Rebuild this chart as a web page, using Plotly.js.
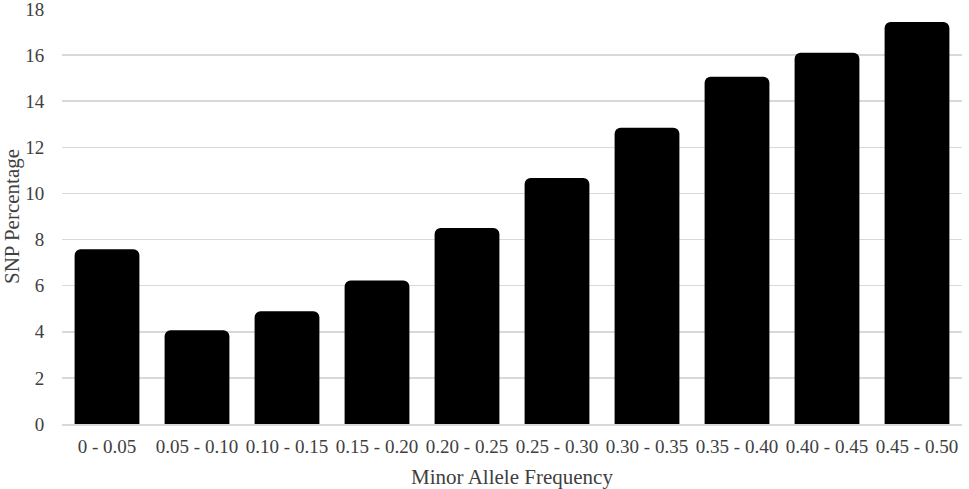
<!DOCTYPE html>
<html>
<head>
<meta charset="utf-8">
<script src="https://cdn.plot.ly/plotly-3.0.1.min.js"></script>
<style>html,body{margin:0;padding:0;background:#fff;}#chart{width:969px;height:489px;}</style>
</head>
<body>
<div id="chart"></div>
<script>
var categories = ["0 - 0.05", "0.05 - 0.10", "0.10 - 0.15", "0.15 - 0.20", "0.20 - 0.25", "0.25 - 0.30", "0.30 - 0.35", "0.35 - 0.40", "0.40 - 0.45", "0.45 - 0.50"];
var snpPercentage = [7.58, 4.07, 4.89, 6.22, 8.5, 10.67, 12.85, 15.06, 16.1, 17.44];
var yTicks = [0, 2, 4, 6, 8, 10, 12, 14, 16, 18];

var fontFam = "Liberation Serif, Times New Roman, serif";
var trace = {
  type: "bar",
  x: categories,
  y: snpPercentage,
  marker: {color: "#000000", cornerradius: 6, line: {width: 0}},
  hoverinfo: "x+y"
};
var layout = {
  width: 969, height: 489,
  margin: {l: 62, r: 7, t: 9, b: 65},
  paper_bgcolor: "#ffffff", plot_bgcolor: "#ffffff",
  bargap: 0.28,
  showlegend: false,
  font: {family: fontFam, color: "#404040", size: 19},
  xaxis: {
    type: "category",
    showgrid: false,
    showline: true, linecolor: "#d9d9d9", linewidth: 1.5,
    ticks: "outside", ticklen: 5, tickcolor: "rgba(0,0,0,0)",
    tickfont: {family: fontFam, size: 19, color: "#404040"},
    title: {text: "Minor Allele Frequency", font: {family: fontFam, size: 21, color: "#404040"}, standoff: 13}
  },
  yaxis: {
    range: [0, 18],
    tickvals: yTicks,
    ticktext: yTicks.map(String),
    ticklabeloverflow: "allow",
    showgrid: true, gridcolor: "#d9d9d9", gridwidth: 1.5,
    zeroline: false, showline: false,
    ticks: "outside", ticklen: 13, tickcolor: "rgba(0,0,0,0)",
    tickfont: {family: fontFam, size: 19, color: "#404040"},
    title: {text: "SNP Percentage", font: {family: fontFam, size: 21, color: "#404040"}, standoff: 6}
  }
};
Plotly.newPlot("chart", [trace], layout, {staticPlot: true, displayModeBar: false});
</script>
</body>
</html>
